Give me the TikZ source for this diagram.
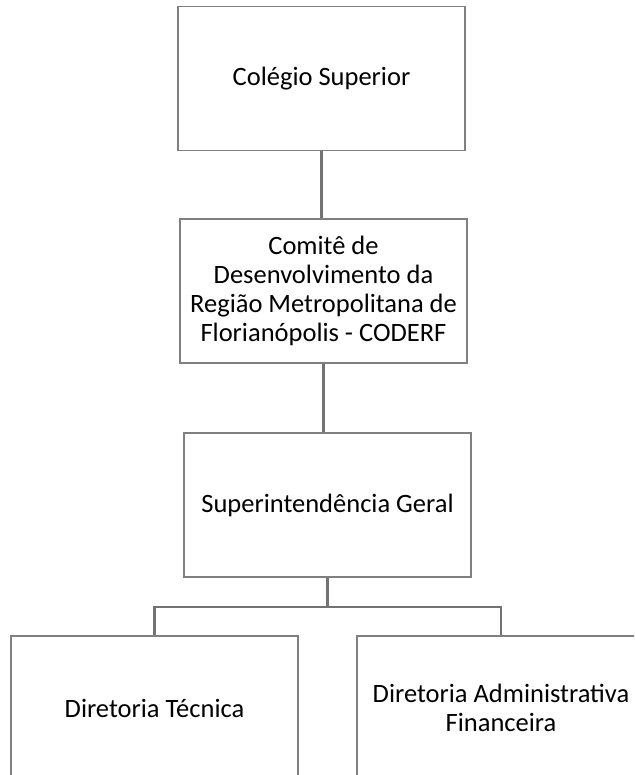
\documentclass[tikz,border=0pt]{standalone}
\usepackage{fontspec}
\setmainfont{Carlito}
\begin{document}
\begin{tikzpicture}[x=1pt, y=1pt,
  caixa/.style={draw=black!50, line width=1.4pt, rectangle, align=center,
    minimum width=287pt, minimum height=144pt, inner sep=0pt,
    font=\fontsize{26.5}{29}\selectfont},
  ligacao/.style={draw=black!55, line width=2.2pt}]

% Rozmiar obrazka
\useasboundingbox (0,0) rectangle (634,775);
\clip (0,0) rectangle (634,775);

% ---------- Pudelka ----------
\node[caixa] (colegio) at (321.5,696.5) {Colégio Superior};
\node[caixa] (coderf) at (323.5,484) {Comitê de\\Desenvolvimento da\\Região Metropolitana de\\Florianópolis - CODERF};
\node[caixa] (superint) at (327.5,270) {Superintendência Geral};
\node[caixa] (tecnica) at (154.5,67) {Diretoria Técnica};
\node[caixa, minimum width=288pt] (admin) at (501,67) {Diretoria Administrativa\\Financeira};

% ---------- Polaczenia ----------
\draw[ligacao] (colegio.south) -- (colegio.south |- coderf.north);
\draw[ligacao] (coderf.south) -- (coderf.south |- superint.north);
\coordinate (rozgal) at ([yshift=-29pt]superint.south);
\draw[ligacao] (superint.south) -- (rozgal) -| (tecnica.north);
\draw[ligacao] (rozgal) -| (admin.north);

\end{tikzpicture}
\end{document}
